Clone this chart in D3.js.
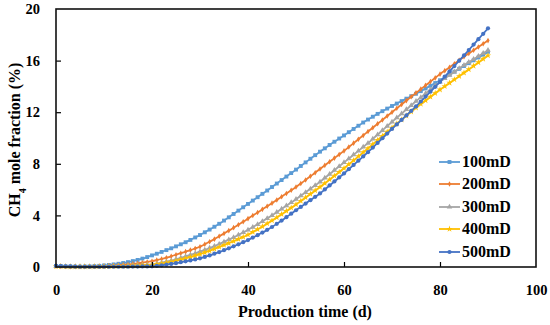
<!DOCTYPE html>
<html><head><meta charset="utf-8">
<script src="https://cdn.jsdelivr.net/npm/d3@7"></script>
<style>body{margin:0;background:#fff;} svg{display:block;} text{font-family:"Liberation Serif","Times New Roman",serif;font-weight:bold;fill:#000;}</style>
</head><body><svg id="c" width="550" height="325"></svg>
<script>
const seriesNames = ["100mD","200mD","300mD","400mD","500mD"];
const seriesColors = ["#5B9BD5","#ED7D31","#A5A5A5","#FFC000","#4472C4"];
const xTicks = [0,20,40,60,80,100];
const yTicks = [0,4,8,12,16,20];
const days = d3.range(0,91);
const v100 = [0.08,0.07,0.05,0.04,0.03,0.03,0.04,0.05,0.07,0.09,0.12,0.16,0.2,0.25,0.31,0.38,0.46,0.55,0.65,0.77,0.9,1.03,1.17,1.31,1.45,1.6,1.76,1.92,2.1,2.29,2.48,2.69,2.9,3.12,3.35,3.6,3.85,4.11,4.37,4.63,4.89,5.15,5.41,5.67,5.93,6.2,6.47,6.74,7.01,7.28,7.55,7.83,8.11,8.39,8.67,8.94,9.2,9.46,9.71,9.96,10.2,10.45,10.7,10.95,11.2,11.43,11.65,11.87,12.08,12.28,12.48,12.67,12.86,13.05,13.24,13.43,13.63,13.84,14.05,14.26,14.48,14.7,14.92,15.14,15.36,15.58,15.8,16.02,16.24,16.46,16.68];
const v200 = [0.06,0.05,0.04,0.03,0.03,0.03,0.03,0.04,0.05,0.06,0.07,0.09,0.11,0.14,0.17,0.2,0.24,0.28,0.33,0.39,0.45,0.53,0.62,0.72,0.83,0.95,1.07,1.19,1.31,1.44,1.57,1.76,1.96,2.16,2.38,2.6,2.82,3.05,3.28,3.51,3.75,3.99,4.23,4.47,4.71,4.95,5.2,5.45,5.7,5.95,6.2,6.47,6.75,7.03,7.31,7.6,7.88,8.16,8.44,8.72,9.0,9.3,9.6,9.9,10.2,10.5,10.8,11.1,11.4,11.7,12.0,12.3,12.6,12.9,13.2,13.5,13.79,14.08,14.37,14.66,14.95,15.22,15.49,15.76,16.03,16.3,16.55,16.8,17.05,17.3,17.55];
const v300 = [0.06,0.05,0.04,0.03,0.02,0.02,0.02,0.02,0.03,0.03,0.04,0.05,0.06,0.07,0.08,0.1,0.12,0.14,0.16,0.18,0.2,0.26,0.33,0.41,0.5,0.6,0.71,0.82,0.94,1.06,1.19,1.33,1.47,1.62,1.78,1.95,2.12,2.3,2.49,2.68,2.87,3.09,3.31,3.54,3.77,4.0,4.25,4.5,4.75,5.0,5.25,5.52,5.79,6.06,6.33,6.6,6.9,7.2,7.5,7.8,8.1,8.4,8.7,9.0,9.3,9.6,9.93,10.26,10.59,10.92,11.25,11.57,11.89,12.21,12.53,12.85,13.15,13.45,13.75,14.05,14.35,14.61,14.87,15.13,15.39,15.65,15.88,16.11,16.34,16.57,16.8];
const v400 = [0.05,0.04,0.03,0.02,0.02,0.02,0.02,0.02,0.02,0.03,0.03,0.04,0.05,0.06,0.07,0.08,0.09,0.1,0.12,0.13,0.15,0.2,0.26,0.33,0.4,0.48,0.57,0.67,0.77,0.88,1.0,1.13,1.26,1.4,1.55,1.7,1.85,2.0,2.16,2.33,2.5,2.71,2.92,3.14,3.37,3.6,3.84,4.09,4.34,4.59,4.85,5.12,5.39,5.66,5.93,6.2,6.49,6.78,7.07,7.36,7.65,7.96,8.27,8.58,8.89,9.2,9.52,9.84,10.16,10.48,10.8,11.11,11.42,11.73,12.04,12.35,12.63,12.91,13.19,13.47,13.75,14.01,14.27,14.53,14.79,15.05,15.32,15.59,15.86,16.13,16.4];
const v500 = [0.08,0.06,0.05,0.04,0.03,0.02,0.02,0.02,0.02,0.02,0.02,0.02,0.02,0.02,0.02,0.02,0.03,0.03,0.04,0.04,0.05,0.09,0.13,0.18,0.24,0.3,0.37,0.44,0.51,0.59,0.67,0.78,0.9,1.03,1.16,1.3,1.45,1.6,1.76,1.92,2.09,2.28,2.47,2.67,2.88,3.1,3.35,3.6,3.86,4.13,4.4,4.66,4.92,5.18,5.44,5.7,6.01,6.32,6.63,6.94,7.25,7.58,7.91,8.24,8.57,8.9,9.26,9.62,9.98,10.34,10.7,11.05,11.4,11.75,12.1,12.45,12.83,13.21,13.59,13.97,14.35,14.76,15.17,15.58,15.99,16.4,16.82,17.24,17.66,18.08,18.5];
const allValues = [v100,v200,v300,v400,v500];
const markerTypes = ["square","plus","triangle","star","circle"];

const svg = d3.select("#c");
const L=56,T=9,R=536,B=267;
const x = d3.scaleLinear().domain([0,100]).range([L,R]);
const y = d3.scaleLinear().domain([0,20]).range([B,T]);

function markerPath(type){
  const m={square:d3.symbolSquare,plus:d3.symbolDiamond,triangle:d3.symbolTriangle,star:d3.symbolStar,circle:d3.symbolCircle};
  const s={square:15,plus:9,triangle:13,star:13,circle:14};
  return d3.symbol().type(m[type]).size(s[type])();
}

const line = d3.line().x((d,i)=>x(days[i])).y(d=>y(d)).curve(d3.curveMonotoneX);
allValues.forEach((vals,k)=>{
  const g = svg.append("g");
  g.append("path").attr("d",line(vals)).attr("fill","none").attr("stroke",seriesColors[k]).attr("stroke-width",1.8);
  g.selectAll("path.m").data(vals).enter().append("path").attr("class","m")
    .attr("d",markerPath(markerTypes[k]))
    .attr("transform",(d,i)=>`translate(${x(days[i])},${y(d)})`)
    .attr("fill",seriesColors[k]);
});

// axes
const xa = svg.append("g").attr("transform",`translate(0,${B})`)
  .call(d3.axisBottom(x).tickValues(xTicks).tickSize(-5).tickPadding(18).tickFormat(d3.format("d")));
const ya = svg.append("g").attr("transform",`translate(${L},0)`)
  .call(d3.axisLeft(y).tickValues(yTicks).tickSize(-5).tickPadding(16).tickFormat(d3.format("d")));
[xa,ya].forEach(a=>{a.select(".domain").remove();a.selectAll("line").attr("stroke","#000").attr("stroke-width",1.2);a.selectAll("text").style("font-size","14.5px").attr("font-family",null);});
xa.selectAll(".tick").filter(d=>d===0||d===100).select("line").remove();
ya.selectAll(".tick").filter(d=>d===0||d===20).select("line").remove();

svg.append("rect").attr("x",L).attr("y",T).attr("width",R-L).attr("height",B-T)
  .attr("fill","none").attr("stroke","#111").attr("stroke-width",1.6);

svg.append("text").attr("x",(L+R)/2+9).attr("y",317).attr("text-anchor","middle").style("font-size","16px").text("Production time (d)");
const yt = svg.append("text").attr("transform",`translate(20,${(T+B)/2+2}) rotate(-90)`).attr("text-anchor","middle").style("font-size","16px");
yt.append("tspan").text("CH");
yt.append("tspan").attr("baseline-shift","sub").style("font-size","10px").text("4");
yt.append("tspan").text(" mole fraction (%)");

// legend
const legY = [162,184,207,229,252];
seriesNames.forEach((n,k)=>{
  const g = svg.append("g").attr("transform",`translate(0,${legY[k]})`);
  g.append("line").attr("x1",439).attr("x2",460).attr("y1",0).attr("y2",0).attr("stroke",seriesColors[k]).attr("stroke-width",1.8);
  g.append("path").attr("d",markerPath(markerTypes[k])).attr("transform","translate(449.5,0)").attr("fill",seriesColors[k]);
  g.append("text").attr("x",462).attr("y",5).style("font-size","16px").text(n);
});
</script></body></html>
